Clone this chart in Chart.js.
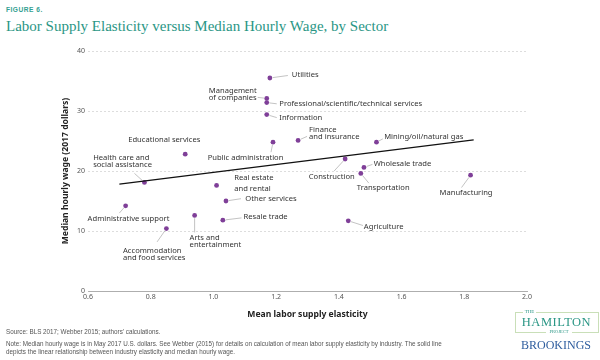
<!DOCTYPE html>
<html>
<head>
<meta charset="utf-8">
<script src="https://cdn.jsdelivr.net/npm/chart.js@4.4.1/dist/chart.umd.min.js"></script>
<style>
  body { margin: 0; background: #fff; }
  #wrap { position: relative; width: 600px; height: 360px; overflow: hidden; background: #fff; }
  #c { position: absolute; left: 0; top: 0; }
  .txt { position: absolute; white-space: nowrap; }
  #fig { left: 6px; top: 6px; line-height: 9px; font: bold 6.6px "Liberation Sans", Arial, sans-serif; letter-spacing: 0.5px; color: #33a091; }
  #title { left: 6px; top: 18px; line-height: 18px; font: 15px "Liberation Serif", serif; color: #2a9685; }
  .foot { left: 6px; font: 6.3px "Liberation Sans", Arial, sans-serif; color: #555; line-height: 8px; }
  .logo { font-family: "Liberation Serif", serif; text-align: center; }
</style>
</head>
<body>
<div id="wrap">
  <div id="fig" class="txt">FIGURE 6.</div>
  <div id="title" class="txt">Labor Supply Elasticity versus Median Hourly Wage, by Sector</div>
  <canvas id="c" width="600" height="360"></canvas>
  <div class="txt foot" style="top:328px">Source: BLS 2017; Webber 2015; authors' calculations.</div>
  <div class="txt foot" style="top:339.5px">Note: Median hourly wage is in May 2017 U.S. dollars. See Webber (2015) for details on calculation of mean labor supply elasticity by industry. The solid line</div>
  <div class="txt foot" style="top:348px">depicts the linear relationship between industry elasticity and median hourly wage.</div>

  <div style="position:absolute; left:515px; top:312px; width:82px; height:19px; border:0.8px solid #c9dfb8;"></div>
  <div class="txt logo" style="left:523px; top:309px; width:13px; font-size:5px; line-height:6px; color:#2a9685; background:#fff;">THE</div>
  <div class="txt logo" style="left:519px; top:314.5px; width:75px; font-size:12.5px; line-height:14px; color:#2a9685; letter-spacing:0.5px;">HAMILTON</div>
  <div class="txt logo" style="left:546px; top:328.5px; width:26px; font-size:4.5px; line-height:5px; color:#2a9685; background:#fff;">PROJECT</div>
  <div class="txt logo" style="left:518px; top:337.5px; width:76px; font-size:12px; line-height:14px; color:#2e5d9e;">BROOKINGS</div>
</div>
<script>
// Data
const sectors = [
  'Utilities', 'Management of companies', 'Professional/scientific/technical services',
  'Information', 'Educational services', 'Public administration', 'Finance and insurance',
  'Mining/oil/natural gas', 'Construction', 'Wholesale trade', 'Transportation',
  'Manufacturing', 'Agriculture', 'Health care and social assistance', 'Real estate and rental',
  'Other services', 'Administrative support', 'Arts and entertainment', 'Resale trade',
  'Accommodation and food services'
];
const elasticity = [1.18, 1.17, 1.17, 1.17, 0.91, 1.19, 1.27, 1.52, 1.42, 1.48, 1.47, 1.82, 1.43, 0.78, 1.01, 1.04, 0.72, 0.94, 1.03, 0.85];
const wage = [35.5, 32.1, 31.4, 29.4, 22.8, 24.8, 25.1, 24.8, 22.0, 20.6, 19.6, 19.3, 11.7, 18.1, 17.6, 15.0, 14.2, 12.6, 11.8, 10.4];
const trendX = [0.70, 1.83];
const trendY = [17.8, 25.2];
const xTicks = [0.6, 0.8, 1.0, 1.2, 1.4, 1.6, 1.8, 2.0];
const yTicks = [0, 10, 20, 30, 40];

// Label placement (pixel offsets from each point)
const labelLayout = {
  'Utilities': { lines: ['Utilities'], dx: 22, dy: [-3], align: 'left', leader: [18, -2.5] },
  'Management of companies': { lines: ['Management', 'of companies'], dx: -10, dy: [-7.3, -0.3], align: 'right', leader: [-9, -1] },
  'Professional/scientific/technical services': { lines: ['Professional/scientific/technical services'], dx: 12.6, dy: [1.4], align: 'left', leader: [10, 1.2] },
  'Information': { lines: ['Information'], dx: 12.6, dy: [3.3], align: 'left', leader: [10, 3] },
  'Educational services': { lines: ['Educational services'], dx: -57, dy: [-14], align: 'left', leader: null },
  'Public administration': { lines: ['Public administration'], dx: -27.5, dy: [16], align: 'center', leader: [-2, 10] },
  'Finance and insurance': { lines: ['Finance', 'and insurance'], dx: 11, dy: [-10.3, -3.3], align: 'left', leader: [9, -4] },
  'Mining/oil/natural gas': { lines: ['Mining/oil/natural gas'], dx: 7.7, dy: [-5.7], align: 'left', leader: [6.3, -3.3] },
  'Construction': { lines: ['Construction'], dx: -13.4, dy: [18], align: 'center', leader: [-11, 12] },
  'Wholesale trade': { lines: ['Wholesale trade'], dx: 9.7, dy: [-3.3], align: 'left', leader: [8.5, -3] },
  'Transportation': { lines: ['Transportation'], dx: 22.4, dy: [14.7], align: 'center', leader: [8, 9.7] },
  'Manufacturing': { lines: ['Manufacturing'], dx: -4.5, dy: [17.7], align: 'center', leader: [-9, 12.3] },
  'Agriculture': { lines: ['Agriculture'], dx: 15.6, dy: [6], align: 'left', leader: [14.7, 4.7] },
  'Health care and social assistance': { lines: ['Health care and', 'social assistance'], dx: -51.3, dy: [-24.6, -17.3], align: 'left', leader: [-10, -9] },
  'Real estate and rental': { lines: ['Real estate', 'and rental'], dx: 17.7, dy: [-7.3, 3], align: 'left', leader: null },
  'Other services': { lines: ['Other services'], dx: 19.4, dy: [-2], align: 'left', leader: [15, -2.3] },
  'Administrative support': { lines: ['Administrative support'], dx: 2.9, dy: [13], align: 'center', leader: [-6.3, 7.3] },
  'Arts and entertainment': { lines: ['Arts and', 'entertainment'], dx: -5, dy: [22.7, 29.4], align: 'left', leader: [0, 17] },
  'Resale trade': { lines: ['Resale trade'], dx: 20.7, dy: [-3], align: 'left', leader: [18.7, -2.3] },
  'Accommodation and food services': { lines: ['Accommodation', 'and food services'], dx: -43.4, dy: [22, 29.3], align: 'left', leader: [-9.3, 13.3] }
};

const purple = '#7f3f98';

const pointLabels = {
  id: 'pointLabels',
  afterDatasetsDraw(chart) {
    const meta = chart.getDatasetMeta(1);
    const ctx = chart.ctx;
    ctx.save();
    ctx.font = '7.6px "Noto Sans", sans-serif';
    ctx.textBaseline = 'middle';
    meta.data.forEach((el, i) => {
      const lay = labelLayout[sectors[i]];
      if (!lay) return;
      if (lay.leader) {
        const [lx, ly] = lay.leader;
        const len = Math.hypot(lx, ly) || 1;
        ctx.strokeStyle = '#9a9a9a';
        ctx.lineWidth = 0.6;
        ctx.beginPath();
        ctx.moveTo(el.x + lx / len * 2.8, el.y + ly / len * 2.8);
        ctx.lineTo(el.x + lx, el.y + ly);
        ctx.stroke();
      }
      ctx.fillStyle = '#333';
      ctx.textAlign = lay.align;
      lay.lines.forEach((t, k) => ctx.fillText(t, el.x + lay.dx, el.y + lay.dy[k]));
    });
    ctx.restore();
  }
};

new Chart(document.getElementById('c'), {
  type: 'scatter',
  data: {
    datasets: [
      {
        type: 'line',
        data: trendX.map((x, i) => ({ x: x, y: trendY[i] })),
        borderColor: '#111',
        borderWidth: 1.2,
        pointRadius: 0,
        fill: false
      },
      {
        data: elasticity.map((x, i) => ({ x: x, y: wage[i] })),
        backgroundColor: purple,
        borderWidth: 0,
        pointRadius: 2.4
      }
    ]
  },
  options: {
    responsive: false,
    animation: false,
    devicePixelRatio: 1,
    layout: { padding: { left: 0, top: 51, right: 73, bottom: 39 } },
    plugins: { legend: { display: false }, tooltip: { enabled: false } },
    scales: {
      x: {
        type: 'linear', min: 0.6, max: 2.0,
        afterBuildTicks: s => { s.ticks = xTicks.map(v => ({ value: v })); },
        afterFit: s => { s.height = 30; },
        ticks: { callback: v => v.toFixed(1), color: '#555', font: { family: 'Noto Sans', size: 7 }, padding: 2, maxRotation: 0 },
        grid: { display: false, drawTicks: false },
        border: { display: true, color: '#999', width: 0.8 },
        title: { display: true, text: 'Mean labor supply elasticity', color: '#222', font: { family: 'Noto Sans', size: 8.6, weight: 'bold' }, padding: { top: 0, bottom: 1.6 } }
      },
      y: {
        type: 'linear', min: 0, max: 40,
        afterBuildTicks: s => { s.ticks = yTicks.map(v => ({ value: v })); },
        afterFit: s => { s.width = 88; },
        ticks: { color: '#555', font: { family: 'Noto Sans', size: 7 }, padding: 3 },
        grid: { drawTicks: false, color: c => c.tick && c.tick.value === 0 ? 'rgba(0,0,0,0)' : '#cfcfcf', lineWidth: 0.7 },
        border: { display: false, dash: [2, 2] },
        title: { display: true, text: 'Median hourly wage (2017 dollars)', color: '#222', font: { family: 'Noto Sans', size: 8.6, weight: 'bold' }, padding: { top: 60.5, bottom: 0 } }
      }
    }
  },
  plugins: [pointLabels]
});
</script>
</body>
</html>
